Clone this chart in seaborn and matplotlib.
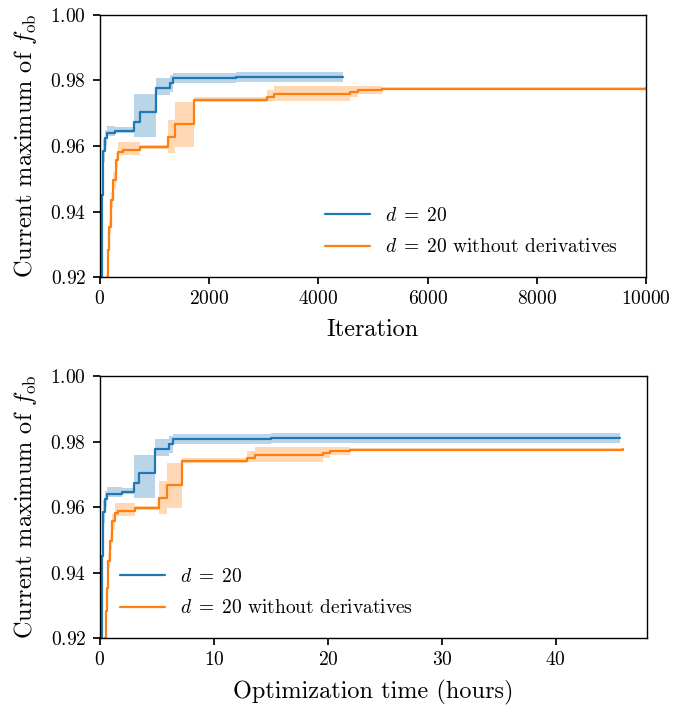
import numpy as np
import pandas as pd
import matplotlib
matplotlib.use("Agg")
import matplotlib.pyplot as plt
import seaborn as sns

# ---------------- data ----------------
blue_iter = [0, 20, 40, 60, 90, 122, 275, 628, 733, 1026, 1282, 1331, 2500, 4456]
blue_hours = [0.0, 0.10, 0.20, 0.28, 0.40, 0.58, 1.90, 3.01, 3.45, 4.82, 6.08, 6.37, 15.0, 45.67]
blue_mean = [0.880, 0.920, 0.945, 0.9585, 0.9625, 0.9641, 0.9647, 0.9674, 0.9703, 0.9776, 0.9791, 0.9807, 0.9810, 0.9812]
blue_lo = [0.875, 0.915, 0.940, 0.955, 0.9600, 0.9630, 0.9640, 0.9628, 0.9628, 0.9756, 0.9766, 0.9793, 0.9796, 0.9800]
blue_hi = [0.885, 0.925, 0.950, 0.962, 0.9650, 0.9660, 0.9658, 0.9758, 0.9758, 0.9807, 0.9817, 0.9822, 0.9825, 0.9828]

orange_iter = [100, 122, 141, 165, 201, 244, 287, 336, 427, 733, 1239, 1374, 1720, 3053, 3180, 4579, 4731, 5159, 10000]
orange_hours = [0.40, 0.44, 0.52, 0.58, 0.73, 0.85, 1.05, 1.30, 1.60, 3.07, 5.20, 5.85, 7.20, 12.87, 13.60, 19.6, 20.2, 21.9, 45.9]
orange_mean = [0.905, 0.920, 0.9282, 0.9354, 0.9435, 0.9496, 0.9557, 0.9583, 0.9588, 0.9598, 0.9628, 0.9667, 0.9740, 0.9749, 0.9759, 0.9764, 0.9771, 0.9775, 0.9778]
orange_lo = [0.900, 0.916, 0.9260, 0.9330, 0.9410, 0.9470, 0.9530, 0.9572, 0.9572, 0.9592, 0.9578, 0.9598, 0.9735, 0.9736, 0.9736, 0.9749, 0.9758, 0.9771, 0.9776]
orange_hi = [0.910, 0.924, 0.9305, 0.9378, 0.9460, 0.9520, 0.9580, 0.9611, 0.9611, 0.9603, 0.9680, 0.9735, 0.9749, 0.9772, 0.9782, 0.9782, 0.9782, 0.9779, 0.9780]

labels = [r"$d\;=\;20$", r"$d\;=\;20$ without derivatives"]
colors = ["#1f77b4", "#ff7f0e"]

# ---------------- style ----------------
sns.set_theme(style="ticks")
plt.rcParams.update({
    "font.family": ["serif"],
    "font.serif": ["cmr10", "DejaVu Serif"],
    "mathtext.fontset": "cm",
    "axes.formatter.use_mathtext": True,
    "axes.unicode_minus": False,
    "axes.edgecolor": "black",
    "axes.linewidth": 1.0,
    "xtick.color": "black",
    "ytick.color": "black",
    "xtick.major.size": 5,
    "ytick.major.size": 5,
    "xtick.major.pad": 4.5,
    "ytick.major.pad": 5,
    "xtick.labelsize": 14,
    "ytick.labelsize": 14,
    "axes.labelsize": 17.5,
    "legend.fontsize": 14,
    "legend.handlelength": 2.3,
    "legend.handletextpad": 0.75,
    "legend.labelspacing": 0.7,
    "text.color": "black",
    "axes.labelcolor": "black",
})

fig = plt.figure(figsize=(6.89, 7.06), dpi=100)
ax1 = fig.add_axes([0.1451, 0.6076, 0.7925, 0.3712])
ax2 = fig.add_axes([0.1451, 0.0963, 0.7939, 0.3711])

series = [
    (blue_iter, blue_hours, blue_mean, blue_lo, blue_hi),
    (orange_iter, orange_hours, orange_mean, orange_lo, orange_hi),
]

for ax, xi in [(ax1, 0), (ax2, 1)]:
    for (it, hr, m, lo, hi), lab, col in zip(series, labels, colors):
        x = it if xi == 0 else hr
        df = pd.DataFrame({"x": x, "y": m})
        ax.fill_between(x, lo, hi, step="post", color=col, alpha=0.3, linewidth=0)
        sns.lineplot(data=df, x="x", y="y", ax=ax, color=col, label=lab,
                     drawstyle="steps-post", linewidth=1.6, errorbar=None)
    ax.set_ylim(0.92, 1.00)
    ax.set_yticks([0.92, 0.94, 0.96, 0.98, 1.00])
    ax.set_ylabel(r"Current maximum of $f_{\mathrm{ob}}$", labelpad=8)

ax1.set_xlim(0, 10000)
ax1.set_xticks([0, 2000, 4000, 6000, 8000, 10000])
ax1.set_xlabel("Iteration", labelpad=8)
ax1.legend(frameon=False, loc="lower right", bbox_to_anchor=(0.98, 0.012))

ax2.set_xlim(0, 48.0)
ax2.set_xticks([0, 10, 20, 30, 40])
ax2.set_xlabel("Optimization time (hours)", labelpad=8)
ax2.legend(frameon=False, loc="lower left", bbox_to_anchor=(0.005, 0.012))

for ax in (ax1, ax2):
    ax.yaxis.set_major_formatter(matplotlib.ticker.FormatStrFormatter("$%.2f$"))
    ax.xaxis.set_major_formatter(matplotlib.ticker.FuncFormatter(lambda v, p: "$%d$" % v))

fig.savefig("out.png", dpi=100)
